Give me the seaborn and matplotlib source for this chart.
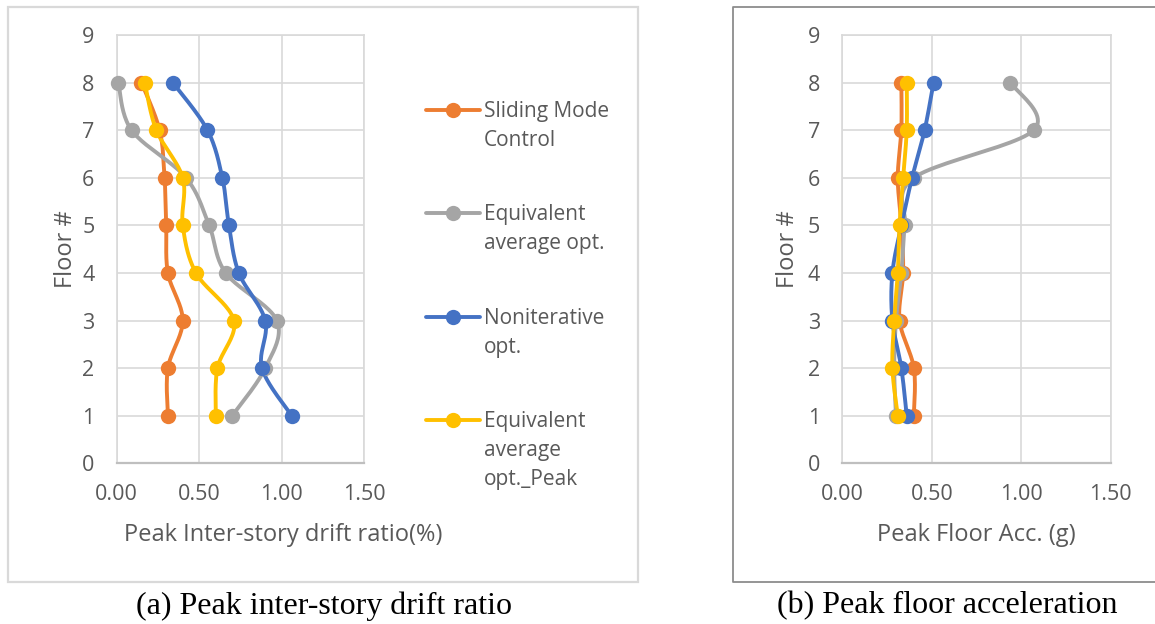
import numpy as np
import pandas as pd
import matplotlib
matplotlib.use("Agg")
import matplotlib.pyplot as plt
from matplotlib.lines import Line2D
from matplotlib.patches import Rectangle
import seaborn as sns

# ---- data (floors 1..8) ----
floors = [1, 2, 3, 4, 5, 6, 7, 8]
series_names = ["Sliding Mode Control", "Equivalent average opt.",
                "Noniterative opt.", "Equivalent average opt._Peak"]
legend_labels = ["Sliding Mode\nControl", "Equivalent\naverage opt.",
                 "Noniterative\nopt.", "Equivalent\naverage\nopt._Peak"]
colors = ["#ED7D31", "#A5A5A5", "#4472C4", "#FFC000"]

# Peak inter-story drift ratio (%)
drift_smc = [0.31, 0.31, 0.40, 0.31, 0.30, 0.29, 0.26, 0.15]
drift_eq_avg = [0.70, 0.90, 0.97, 0.66, 0.56, 0.42, 0.09, 0.01]
drift_nonit = [1.06, 0.88, 0.90, 0.74, 0.68, 0.64, 0.55, 0.34]
drift_eq_peak = [0.60, 0.61, 0.71, 0.48, 0.40, 0.40, 0.24, 0.17]

# Peak floor acceleration (g)
acc_smc = [0.40, 0.40, 0.32, 0.34, 0.33, 0.31, 0.33, 0.33]
acc_eq_avg = [0.30, 0.29, 0.30, 0.33, 0.35, 0.40, 1.07, 0.94]
acc_nonit = [0.36, 0.33, 0.28, 0.28, 0.33, 0.39, 0.46, 0.51]
acc_eq_peak = [0.31, 0.28, 0.29, 0.31, 0.32, 0.34, 0.36, 0.36]

x_ticks = [0.0, 0.5, 1.0, 1.5]
y_ticks = list(range(10))

drift_df = pd.DataFrame({"Floor": floors * 4,
                         "Value": drift_smc + drift_eq_avg + drift_nonit + drift_eq_peak,
                         "Series": np.repeat(series_names, len(floors))})
acc_df = pd.DataFrame({"Floor": floors * 4,
                       "Value": acc_smc + acc_eq_avg + acc_nonit + acc_eq_peak,
                       "Series": np.repeat(series_names, len(floors))})


def smooth_curve(xs, ys, sx, sy, n=24):
    """Catmull-Rom style Bezier smoothing done in screen-scaled space."""
    P = np.column_stack([np.asarray(xs, float) * sx, np.asarray(ys, float) * sy])
    ext = np.vstack([P[0], P, P[-1]])
    t = np.linspace(0, 1, n)[:, None]
    parts = []
    for i in range(len(P) - 1):
        p0, p1, p2, p3 = ext[i], ext[i + 1], ext[i + 2], ext[i + 3]
        c1 = p1 + (p2 - p0) / 6.0
        c2 = p2 - (p3 - p1) / 6.0
        seg = ((1 - t) ** 3) * p1 + 3 * ((1 - t) ** 2) * t * c1 \
            + 3 * (1 - t) * t ** 2 * c2 + t ** 3 * p2
        parts.append(seg if i == 0 else seg[1:])
    pts = np.vstack(parts)
    return pts[:, 0] / sx, pts[:, 1] / sy


sns.set_theme(style="white")
FONT = ["Open Sans", "DejaVu Sans"]
plt.rcParams["font.family"] = FONT
TXT = "#595959"
GRID = "#D9D9D9"
FS_TICK = 15.5
FS_LEG = 15
FS_TITLE = 17

W, H = 1155, 624
fig = plt.figure(figsize=(W / 100, H / 100), dpi=100)
fig.patch.set_facecolor("white")

ax_left = fig.add_axes([116.7 / W, 1 - 463.3 / H, 247.6 / W, 428.3 / H])
ax_right = fig.add_axes([842.3 / W, 1 - 463.3 / H, 268.4 / W, 428.3 / H])

LW = 2.8
MS = 122


def draw_panel(ax, df, xlabel, xlabel_x, ylabel_x):
    bbox = ax.get_position()
    sx = bbox.width * W / 1.5
    sy = bbox.height * H / 9.0
    for name, col in zip(series_names, colors):
        sub = df[df["Series"] == name]
        cx, cy = smooth_curve(sub["Value"], sub["Floor"], sx, sy)
        sns.lineplot(x=cx, y=cy, sort=False, estimator=None, color=col,
                     lw=LW, ax=ax, zorder=3, solid_capstyle="round")
        sns.scatterplot(x=sub["Value"], y=sub["Floor"], color=col, s=MS,
                        linewidth=0, ax=ax, zorder=4, clip_on=False)
    ax.set_xlim(0, 1.5)
    ax.set_ylim(0, 9)
    ax.set_xticks(x_ticks)
    ax.set_xticklabels([f"{v:.2f}" for v in x_ticks])
    ax.set_yticks(y_ticks)
    ax.set_yticklabels([str(v) for v in y_ticks])
    ax.grid(True, color=GRID, lw=1.2)
    ax.set_axisbelow(True)
    for s in ["top", "right", "left"]:
        ax.spines[s].set_color(GRID)
        ax.spines[s].set_linewidth(1.2)
    ax.spines["bottom"].set_color("#BFBFBF")
    ax.spines["bottom"].set_linewidth(1.6)
    ax.tick_params(axis="both", length=0, labelsize=FS_TICK, labelcolor=TXT)
    ax.tick_params(axis="x", pad=15)
    ax.tick_params(axis="y", pad=16)
    ax.set_xlabel(xlabel, fontsize=FS_TITLE, color=TXT)
    ax.xaxis.set_label_coords(xlabel_x, -0.168)
    ax.xaxis.label.set_va("center")
    ax.set_ylabel("Floor #", fontsize=FS_TITLE, color=TXT)
    ax.yaxis.set_label_coords(ylabel_x, 0.5)
    ax.yaxis.label.set_va("center")
    if ax.get_legend() is not None:
        ax.get_legend().remove()


draw_panel(ax_left, drift_df, "Peak Inter-story drift ratio(%)", 0.672, -0.205)
draw_panel(ax_right, acc_df, "Peak Floor Acc. (g)", 0.5, -0.202)

# ---- overlay in pixel coordinates for frames, legend and captions ----
ov = fig.add_axes([0, 0, 1, 1], zorder=-1)
ov.set_xlim(0, W)
ov.set_ylim(H, 0)
ov.axis("off")
ov.patch.set_alpha(0)

ov.add_patch(Rectangle((8, 7), 630, 575, fill=False, ec="#D9D9D9", lw=1.6))
ov.plot([1160, 733, 733, 1160], [6.5, 6.5, 582, 582], color="#8C8C8C", lw=1.3)

legend_y = [110, 213, 317, 420]
for lab, col, yy in zip(legend_labels, colors, legend_y):
    ov.add_line(Line2D([426, 480], [yy, yy], color=col, lw=LW))
    ov.add_line(Line2D([453], [yy], marker="o", color=col, markersize=11,
                       markeredgewidth=0))
    ov.text(484, yy - 9, lab, fontsize=FS_LEG, color=TXT, va="top", ha="left",
            linespacing=1.5)

cap_font = ["Liberation Serif", "DejaVu Serif"]
ov.text(324, 606, "(a) Peak inter-story drift ratio", fontsize=23,
        family=cap_font, ha="center", va="center", color="black")
ov.text(947, 606, "(b) Peak floor acceleration", fontsize=23,
        family=cap_font, ha="center", va="center", color="black")

fig.savefig("out.png", dpi=100, facecolor="white")
